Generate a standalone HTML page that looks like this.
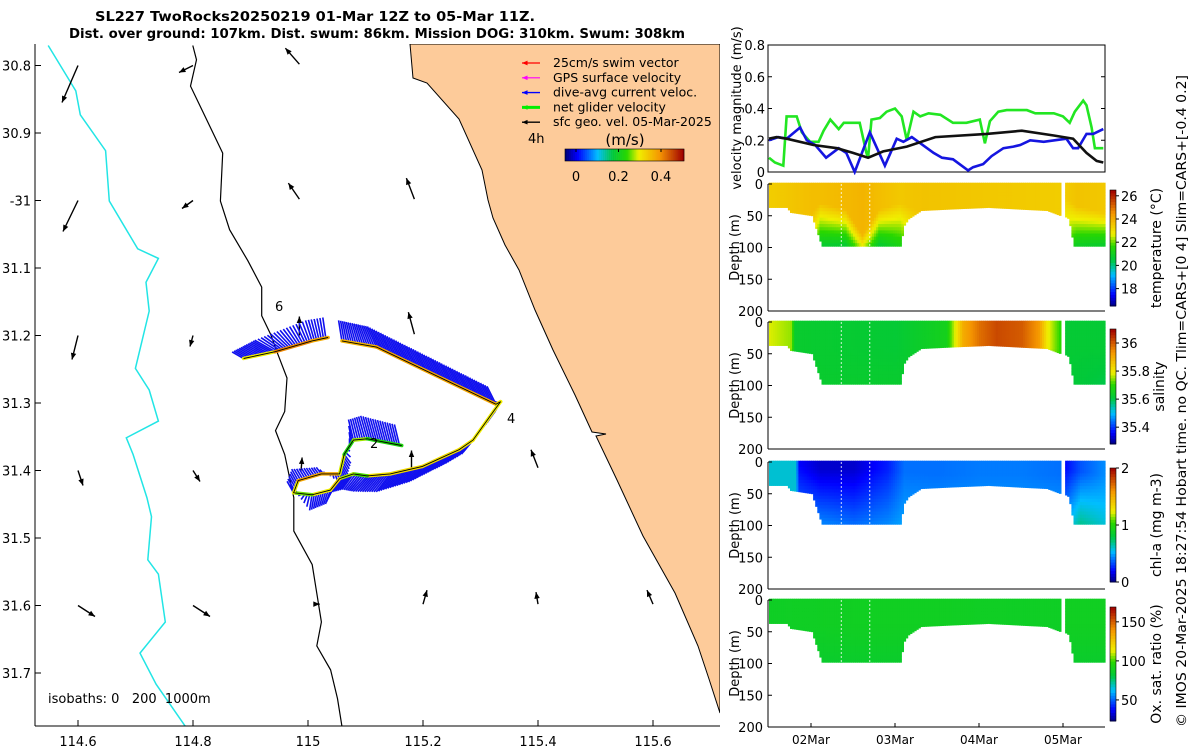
<!DOCTYPE html>
<html><head><meta charset="utf-8">
<style>
html,body{margin:0;padding:0;background:#fff;}
svg{display:block;font-family:"DejaVu Sans","Liberation Sans",sans-serif;}
</style></head>
<body>
<svg id="fig" width="1200" height="750" viewBox="0 0 1200 750" xmlns="http://www.w3.org/2000/svg">
<text x="315" y="21" text-anchor="middle" font-size="13" font-weight="bold" textLength="440" lengthAdjust="spacingAndGlyphs">SL227 TwoRocks20250219 01-Mar 12Z to 05-Mar 11Z.</text>
<text x="377" y="38" text-anchor="middle" font-size="13" font-weight="bold" textLength="616" lengthAdjust="spacingAndGlyphs">Dist. over ground: 107km. Dist. swum: 86km. Mission DOG: 310km. Swum: 308km</text>
<g id="map"></g>
<g id="right"></g>
<text transform="translate(1186,401) rotate(-90)" text-anchor="middle" font-size="13" textLength="652" lengthAdjust="spacingAndGlyphs">© IMOS 20-Mar-2025 18:27:54 Hobart time. no QC. Tlim=CARS+[0 4] Slim=CARS+[-0.4 0.2]</text>
</svg>
<script>
// ---------------- DATA ----------------
const greenT=[0,0.07,0.17,0.21,0.33,0.39,0.49,0.59,0.65,0.73,0.83,0.89,1.08,1.16,1.18,1.22,1.32,1.40,1.50,1.58,1.64,1.72,1.80,1.90,2.04,2.19,2.35,2.51,2.57,2.63,2.73,2.83,3.07,3.17,3.39,3.50,3.58,3.64,3.74,3.78,3.84,3.88,3.98];
const greenV=[0.09,0.06,0.04,0.35,0.35,0.25,0.19,0.19,0.26,0.33,0.27,0.31,0.31,0.12,0.09,0.33,0.34,0.38,0.40,0.35,0.20,0.38,0.35,0.37,0.36,0.31,0.31,0.33,0.18,0.32,0.38,0.39,0.39,0.37,0.37,0.35,0.31,0.38,0.45,0.42,0.28,0.15,0.15];
const blueT=[0,0.11,0.21,0.37,0.45,0.55,0.68,0.83,0.92,1.02,1.20,1.38,1.52,1.60,1.70,1.96,2.06,2.19,2.37,2.43,2.55,2.65,2.79,2.91,2.99,3.11,3.27,3.54,3.62,3.68,3.78,3.86,3.98];
const blueV=[0.20,0.22,0.21,0.28,0.20,0.17,0.09,0.15,0.12,0.00,0.25,0.04,0.21,0.19,0.22,0.12,0.09,0.08,0.01,0.03,0.05,0.10,0.15,0.16,0.17,0.20,0.19,0.21,0.15,0.15,0.24,0.24,0.27];
const blackT=[0,0.09,0.21,0.53,0.81,1.00,1.18,1.36,1.64,1.98,2.59,3.01,3.39,3.62,3.78,3.90,3.98];
const blackV=[0.21,0.22,0.21,0.17,0.15,0.12,0.09,0.13,0.16,0.22,0.24,0.26,0.23,0.21,0.12,0.07,0.06];
const velTicks=[0,0.2,0.4,0.6,0.8];
const dateTicks=[0.5,1.5,2.5,3.5];
const dateLabels=["02Mar","03Mar","04Mar","05Mar"];
const botTA=[0,0.2,0.25,0.5,0.55,0.62,1.55,1.6,1.65,1.8,2.1,2.6,3.0,3.3,3.42,3.46];
const botZA=[37,37,45,50,70,98,98,65,55,42,40,37,40,42,48,50];
const botTB=[3.50,3.56,3.62,3.98];
const botZB=[50,55,98,98];
const tempT=[0,0.5,0.6,0.9,1.1,1.3,1.55,1.8,3.46,3.5,3.65,3.98];
const tempS=[23.4,23.7,23.7,23.8,23.9,23.7,23.5,23.6,23.4,23.4,23.6,23.5];
const tempM=[40,45,30,40,80,40,30,45,45,20,35,45];
const tempD=[23,22.5,20.6,20.5,22.5,20.5,21.2,23,23,22,20.8,20.6];
const salT=[0,0.25,0.3,1.5,2.1,2.3,2.5,2.7,3.0,3.2,3.3,3.46,3.5,3.98];
const salS=[35.78,35.75,35.63,35.62,35.66,35.9,35.98,36.02,36.0,35.93,35.8,35.7,35.62,35.62];
const salM=[40,40,40,40,40,40,40,40,40,40,40,40,40,40];
const salD=[35.66,35.66,35.63,35.63,35.64,35.7,35.7,35.7,35.7,35.7,35.7,35.7,35.62,35.6];
const chlT=[0,0.3,0.35,0.6,1.0,1.4,1.6,2.0,2.5,3.0,3.46,3.5,3.7,3.98];
const chlS=[0.6,0.6,0.2,0.12,0.12,0.25,0.4,0.4,0.42,0.42,0.4,0.2,0.35,0.45];
const chlM=[10,10,5,10,10,10,15,20,20,20,20,10,15,20];
const chlD=[0.6,0.6,0.45,0.45,0.4,0.45,0.5,0.5,0.5,0.5,0.5,0.5,0.7,0.6];
const oxyT=[0,1,2,3,3.46,3.5,3.98];
const oxyS=[88,89,89,88,88,89,89];
const oxyM=[40,40,40,40,40,40,40];
const oxyD=[86,86,86,86,86,86,86];
const tempTicks=[18,20,22,24,26], salTicks=[35.4,35.6,35.8,36], chlTicks=[0,1,2], oxyTicks=[50,100,150];
const depthTicks=[0,50,100,150,200];
const lonTicks=[114.6,114.8,115,115.2,115.4,115.6];
const latTicks=[30.8,30.9,31.0,31.1,31.2,31.3,31.4,31.5,31.6,31.7];
const latLabels=["30.8","30.9","-31","31.1","31.2","31.3","31.4","31.5","31.6","31.7"];
const trackLonA=[114.888,114.943,115.007,115.035];
const trackLatA=[31.234,31.224,31.208,31.203];
const trackSpdA=[0.2,0.4,0.42,0.33];
const trackLonB=[115.059,115.119,115.327,115.335,115.323,115.287,115.263,115.199,115.143,115.103,115.079,115.055,115.039,115.007,114.975,114.983,115.023,115.055,115.063,115.079,115.103,115.163];
const trackLatB=[31.208,31.217,31.302,31.298,31.312,31.355,31.369,31.394,31.405,31.408,31.405,31.412,31.429,31.436,31.433,31.415,31.405,31.405,31.376,31.355,31.353,31.363];
const trackSpdB=[0.35,0.38,0.38,0.3,0.3,0.3,0.32,0.32,0.33,0.3,0.2,0.35,0.3,0.3,0.22,0.38,0.38,0.38,0.2,0.25,0.3,0.15];
const curUA=[-0.14,-0.25,-0.08,-0.03];
const curVA=[0.08,0.14,0.25,0.25];
const curUB=[-0.04,-0.11,-0.11,-0.08,-0.08,-0.14,-0.17,-0.17,-0.17,-0.17,-0.14,-0.11,-0.06,-0.03,-0.08,-0.08,-0.06,0.06,0.08,-0.06,-0.08,-0.06];
const curVB=[0.25,0.25,0.22,-0.14,-0.14,-0.17,-0.17,-0.19,-0.22,-0.19,-0.19,-0.17,-0.17,-0.19,0.14,0.14,0.08,-0.14,-0.11,0.25,0.28,0.25];
const geoLon=[114.6,114.8,114.985,114.6,114.8,114.985,115.185,114.6,114.8,115.185,114.985,114.6,114.8,114.988,115.18,115.4,114.6,114.8,115.01,115.2,115.4,115.6];
const geoLat=[30.8,30.8,30.798,31.0,31.0,30.998,30.998,31.2,31.2,31.198,31.2,31.4,31.4,31.4,31.4,31.396,31.6,31.6,31.598,31.598,31.598,31.598];
const geoU=[-0.16,-0.14,-0.14,-0.15,-0.11,-0.11,-0.08,-0.06,-0.03,-0.06,0,0.05,0.07,0.01,0,-0.07,0.17,0.17,0.06,0.04,-0.02,-0.06];
const geoV=[-0.37,-0.07,0.16,-0.31,-0.08,0.16,0.21,-0.24,-0.11,0.22,0.19,-0.15,-0.11,0.13,0.2,0.18,-0.11,-0.11,0,0.14,0.12,0.14];

// ---------------- HELPERS ----------------
const NS="http://www.w3.org/2000/svg";
function mk(tag,attrs,parent){const e=document.createElementNS(NS,tag);for(const k in attrs)e.setAttribute(k,attrs[k]);if(parent)parent.appendChild(e);return e;}
function interp(ts,vs,t){if(t<=ts[0])return vs[0];for(let i=1;i<ts.length;i++){if(t<=ts[i]){const f=(t-ts[i-1])/(ts[i]-ts[i-1]);return vs[i-1]+f*(vs[i]-vs[i-1]);}}return vs[vs.length-1];}
const cmapStops=[[0,[0,0,128]],[0.1,[0,0,255]],[0.27,[0,190,255]],[0.4,[0,200,60]],[0.52,[40,215,0]],[0.62,[240,240,0]],[0.8,[245,150,0]],[1,[160,0,0]]];
function cmap(f){f=Math.max(0,Math.min(1,f));for(let i=1;i<cmapStops.length;i++){if(f<=cmapStops[i][0]){const a=cmapStops[i-1],b=cmapStops[i];const g=(f-a[0])/(b[0]-a[0]);const c=a[1].map((v,k)=>Math.round(v+g*(b[1][k]-v)));return `rgb(${c[0]},${c[1]},${c[2]})`;}}return "rgb(160,0,0)";}

const map=document.getElementById('map');
const right=document.getElementById('right');
// ---------------- MAP ----------------
const X=lon=>78+(lon-114.6)*575;
const Y=lat=>65.5+(lat-30.8)*675;
const dz=(zx,zy)=>[zx/2.178,zy/2.09];
function pathFromDig(pts){return pts.map((p,i)=>{const q=dz(p[0],p[1]);return (i?'L':'M')+q[0].toFixed(1)+','+q[1].toFixed(1);}).join(' ');}
mk('clipPath',{id:'mapclip'},map);
mk('rect',{x:35,y:44,width:685,height:682},map.lastChild);
const mg=mk('g',{'clip-path':'url(#mapclip)'},map);


const coastPx=[[410,44],[413,78],[427,83],[459,119],[482,170],[488,200],[493,218],[505,245],[519,270],[535,310],[553,350],[575,395],[592,432],[606,434],[596,436],[617,480],[643,536],[675,593],[698,646],[709,679],[720,713]];
const land=mk('path',{d:coastPx.map((p,i)=>(i?'L':'M')+p[0]+','+p[1]).join(' ')+' L720,44 Z',fill:'#fdcb9a',stroke:'#000','stroke-width':1},mg);


const iso200=[[420,95],[428,125],[415,180],[440,230],[485,320],[480,420],[500,480],[540,545],[570,600],[570,660],[590,700],[605,740],[625,790],[620,860],[600,900],[620,950],[640,1040],[640,1110],[680,1180],[690,1240],[700,1300],[690,1350],[720,1400],[735,1460],[745,1520],[746,1580]];
const i2=mk('path',{d:pathFromDig(iso200),fill:'none',stroke:'#000','stroke-width':1.2},mg);


const iso1000=[[105,95],[165,190],[175,240],[230,315],[238,420],[300,520],[345,540],[318,590],[325,650],[295,770],[325,815],[345,880],[275,915],[290,950],[320,1040],[330,1080],[322,1170],[345,1200],[360,1300],[305,1365],[340,1430],[405,1520],[408,1580]];
const i1=mk('path',{d:pathFromDig(iso1000),fill:'none',stroke:'#22e5e5','stroke-width':1.5},mg);


function arrow(g,x1,y1,x2,y2,col,w,hl){mk('line',{x1,y1,x2,y2,stroke:col,'stroke-width':w},g);const a=Math.atan2(y2-y1,x2-x1);const p1=[x2-hl*Math.cos(a-0.4),y2-hl*Math.sin(a-0.4)],p2=[x2-hl*Math.cos(a+0.4),y2-hl*Math.sin(a+0.4)];mk('polygon',{points:`${x2},${y2} ${p1} ${p2}`,fill:col},g);}
const GS=100;
const geoG=mk('g',{},mg);


for(let i=0;i<geoLon.length;i++){const x=X(geoLon[i]),y=Y(geoLat[i]);arrow(geoG,x,y,x+geoU[i]*GS,y-geoV[i]*GS,'#000',1.4,7);}
const CS=82;
function drawTrack(lons,lats,spd,cu,cv,name){
  const g=mk('g',{},mg);
  
  
  const bg=mk('g',{stroke:'#1010ee','stroke-width':1.6},g);
  for(let i=1;i<lons.length;i++){const x0=X(lons[i-1]),y0=Y(lats[i-1]),x1=X(lons[i]),y1=Y(lats[i]);const L=Math.hypot(x1-x0,y1-y0);const n=Math.max(1,Math.round(L/2.4));
    for(let k=0;k<n;k++){const f=k/n;const x=x0+f*(x1-x0),y=y0+f*(y1-y0);const u=cu[i-1]+f*(cu[i]-cu[i-1]),v=cv[i-1]+f*(cv[i]-cv[i-1]);mk('line',{x1:x.toFixed(1),y1:y.toFixed(1),x2:(x+u*CS).toFixed(1),y2:(y-v*CS).toFixed(1)},bg);}}
  for(let i=1;i<lons.length;i++){mk('line',{x1:X(lons[i-1]),y1:Y(lats[i-1]),x2:X(lons[i]),y2:Y(lats[i]),stroke:cmap((((spd[i-1]+spd[i])/2)+0.05)/0.56),'stroke-width':3.5,'stroke-linecap':'round'},g);}
  mk('polyline',{points:lons.map((l,i)=>X(l).toFixed(1)+','+Y(lats[i]).toFixed(1)).join(' '),fill:'none',stroke:'#000','stroke-width':0.9},g);
}
drawTrack(trackLonA,trackLatA,trackSpdA,curUA,curVA,'glider-track-leg-1');
drawTrack(trackLonB,trackLatB,trackSpdB,curUB,curVB,'glider-track-leg-2');
[["6",275,311],["4",507,423],["2",370,448]].forEach(a=>{const t=mk('text',{x:a[1],y:a[2],'font-size':13},mg);t.textContent=a[0];});
mk('line',{x1:35,y1:44,x2:35,y2:726,stroke:'#000'},map);
mk('line',{x1:35,y1:726,x2:720,y2:726,stroke:'#000'},map);
lonTicks.forEach(l=>{const x=X(l);mk('line',{x1:x,y1:726,x2:x,y2:720,stroke:'#000'},map);const t=mk('text',{x:x,y:746,'text-anchor':'middle','font-size':13},map);t.textContent=String(l);});
latTicks.forEach((l,i)=>{const y=Y(l);mk('line',{x1:35,y1:y,x2:41,y2:y,stroke:'#000'},map);const t=mk('text',{x:31,y:y+5,'text-anchor':'end','font-size':13},map);t.textContent=latLabels[i];});
const iso=mk('text',{x:48,y:703,'font-size':13},map);iso.textContent='isobaths: 0\u00a0\u00a0\u00a0200\u00a0\u00a01000m';


const leg=mk('g',{},map);


[["25cm/s swim vector","#ff0000",1.2],["GPS surface velocity","#ff00ff",1.2],["dive-avg current veloc.","#0000ff",1.4],["net glider velocity","#00ee00",3],["sfc geo. vel. 05-Mar-2025","#000",1.3]].forEach((e,i)=>{const y=62+i*14.8;arrow(leg,540,y+1,522,y+1,e[1],e[2],6);const t=mk('text',{x:553,y:y+5,'font-size':12.5},leg);t.textContent=e[0];});
const t4=mk('text',{x:528,y:143,'font-size':13},leg);t4.textContent='4h';
const tms=mk('text',{x:625,y:145,'font-size':15,'text-anchor':'middle'},leg);tms.textContent='(m/s)';
for(let i=0;i<60;i++){mk('rect',{x:565+i*119/60,y:149,width:2.2,height:12,fill:cmap(i/59)},leg);}
mk('rect',{x:565,y:149,width:119,height:12,fill:'none',stroke:'#000','stroke-width':0.6},leg);
[[0,"0"],[0.2,"0.2"],[0.4,"0.4"]].forEach(a=>{const x=576+a[0]*212.5;mk('line',{x1:x,y1:149,x2:x,y2:152,stroke:'#000'},leg);const t=mk('text',{x:x,y:181,'text-anchor':'middle','font-size':13},leg);t.textContent=a[1];});

// ---------------- RIGHT PANELS ----------------
const XL=768,XR=1105;
const XT=t=>769+t*84;
const VT=45,VB=172;
const YV=v=>VB-v*(VB-VT)/0.8;
const vg=mk('g',{},right);


mk('rect',{x:XL,y:VT,width:XR-XL,height:VB-VT,fill:'#fff',stroke:'#000'},vg);
velTicks.forEach(v=>{const y=YV(v);mk('line',{x1:XL,y1:y,x2:XL+4,y2:y,stroke:'#000'},vg);mk('line',{x1:XR,y1:y,x2:XR-4,y2:y,stroke:'#000'},vg);const t=mk('text',{x:765,y:y+5,'text-anchor':'end','font-size':13},vg);t.textContent=v===0?'0':v.toFixed(1);});
mk('clipPath',{id:'vclip'},vg);mk('rect',{x:XL,y:VT,width:XR-XL,height:VB-VT+3},vg.lastChild);
function series(ts,vs,col,name){const p=mk('polyline',{points:ts.map((t,i)=>XT(t).toFixed(1)+','+YV(vs[i]).toFixed(1)).join(' '),fill:'none',stroke:col,'stroke-width':2.6,'clip-path':'url(#vclip)'},vg);}
series(greenT,greenV,'#22e622','net-glider-velocity-line');
series(blueT,blueV,'#1515e0','dive-avg-current-line');
series(blackT,blackV,'#111','sfc-geo-velocity-line');
const vl=mk('text',{transform:'translate(741,108) rotate(-90)','text-anchor':'middle','font-size':13},vg);vl.textContent='velocity magnitude (m/s)';


const panels=[
 {name:'temperature',top:184,T:tempT,S:tempS,M:tempM,D:tempD,cb:[190,306],rng:[16.5,26.5],ticks:tempTicks,label:'temperature (°C)',lx:1161},
 {name:'salinity',top:322,T:salT,S:salS,M:salM,D:salD,cb:[329,444],rng:[35.28,36.1],ticks:salTicks,label:'salinity',lx:1164},
 {name:'chl-a',top:462,T:chlT,S:chlS,M:chlM,D:chlD,cb:[468,582],rng:[0,2],ticks:chlTicks,label:'chl-a (mg m-3)',lx:1161},
 {name:'oxygen',top:600,T:oxyT,S:oxyS,M:oxyM,D:oxyD,cb:[607,721],rng:[23,169],ticks:oxyTicks,label:'Ox. sat. ratio (%)',lx:1161}
];
const H=127;
panels.forEach((p,pi)=>{
  const g=mk('g',{},right);
  
  
  const YD=z=>p.top+z*H/200;
  const cells=mk('g',{},g);
  const dt=0.025;
  for(let t=0;t<=3.98;t+=dt){
    let bot=null;
    if(t<=botTA[botTA.length-1])bot=interp(botTA,botZA,t);
    else if(t>=botTB[0])bot=interp(botTB,botZB,t);
    if(bot===null)continue;
    const S=interp(p.T,p.S,t),M=interp(p.T,p.M,t),D=interp(p.T,p.D,t);
    for(let z=-2;z<bot;z+=5){
      const zz=z+2.5;let v=zz<=M?S:S+(D-S)*Math.min(1,(zz-M)/Math.max(5,100-M));
      mk('rect',{x:XT(t).toFixed(1),y:YD(z).toFixed(1),width:(dt*84+0.6).toFixed(1),height:Math.min(5,bot-z)*H/200+0.4,fill:cmap((v-p.rng[0])/(p.rng[1]-p.rng[0]))},cells);
    }
  }
  [0.86,1.2].forEach(t=>mk('line',{x1:XT(t),y1:YD(0),x2:XT(t),y2:YD(98),stroke:'#fff','stroke-width':0.8,'stroke-dasharray':'2,2'},g));
  mk('line',{x1:XL,y1:p.top,x2:XL,y2:p.top+H,stroke:'#000'},g);
  mk('line',{x1:XL,y1:p.top+H,x2:XR,y2:p.top+H,stroke:'#000'},g);
  depthTicks.forEach(d=>{const y=YD(d);mk('line',{x1:XL,y1:y,x2:XL+4,y2:y,stroke:'#000'},g);const t=mk('text',{x:763,y:y+5,'text-anchor':'end','font-size':13},g);t.textContent=String(d);});
  const dl=mk('text',{transform:`translate(739,${p.top+H/2}) rotate(-90)`,'text-anchor':'middle','font-size':13},g);dl.textContent='Depth (m)';
  
  
  const cbg=mk('g',{},g);
  
  
  const h=p.cb[1]-p.cb[0];
  for(let i=0;i<40;i++){mk('rect',{x:1110,y:p.cb[1]-(i+1)*h/40,width:6,height:h/40+0.5,fill:cmap((i+0.5)/40)},cbg);}
  mk('rect',{x:1110,y:p.cb[0],width:6,height:h,fill:'none',stroke:'#000','stroke-width':0.6},cbg);
  p.ticks.forEach(v=>{const y=p.cb[1]-(v-p.rng[0])/(p.rng[1]-p.rng[0])*h;mk('line',{x1:1116,y1:y,x2:1119,y2:y,stroke:'#000'},cbg);const t=mk('text',{x:1121,y:y+5,'font-size':13},cbg);t.textContent=String(v);});
  const cl=mk('text',{transform:`translate(${p.lx},${(p.cb[0]+p.cb[1])/2}) rotate(-90)`,'text-anchor':'middle','font-size':14},cbg);cl.textContent=p.label;
  
  
});
dateTicks.forEach((d,i)=>{const x=XT(d);mk('line',{x1:x,y1:727,x2:x,y2:723,stroke:'#000'},right);const t=mk('text',{x:x,y:744,'text-anchor':'middle','font-size':12},right);t.textContent=dateLabels[i];});
</script>
</body></html>
